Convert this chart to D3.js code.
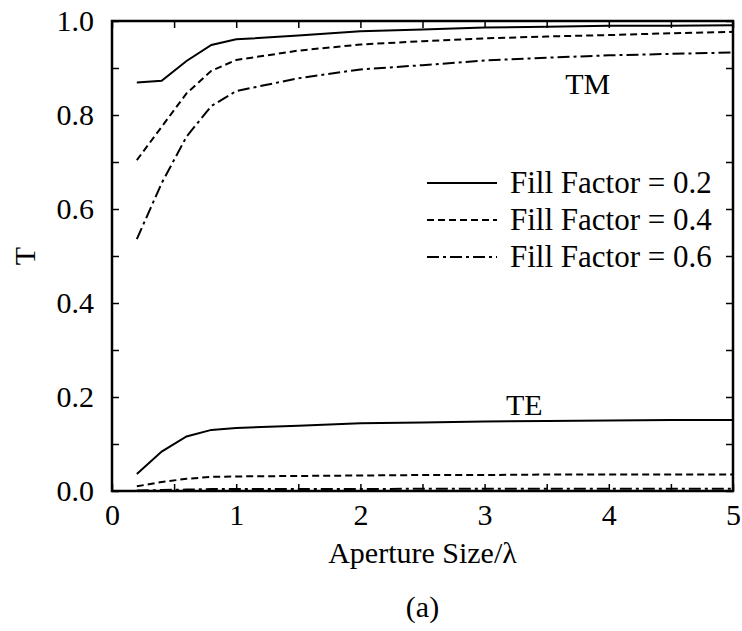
<!DOCTYPE html>
<html lang="en">
<head>
  <meta charset="UTF-8">
  <title>T vs Aperture Size</title>
  <style>
    html, body { margin: 0; padding: 0; background: #fff; }
    svg { display: block; }
  </style>
</head>
<body>
  <svg class="chart"></svg>
  <script src="https://cdnjs.cloudflare.com/ajax/libs/d3/7.8.5/d3.min.js"></script>
  <script>
    // data
    const apertures = [0.2, 0.4, 0.6, 0.8, 1.0, 1.5, 2, 2.5, 3, 3.5, 4, 4.5, 5];
    const fillFactors = ['0.2', '0.4', '0.6'];
    const tm02 = [0.869, 0.873, 0.915, 0.949, 0.961, 0.969, 0.978, 0.982, 0.986, 0.988, 0.990, 0.990, 0.991];
    const tm04 = [0.704, 0.775, 0.846, 0.894, 0.917, 0.937, 0.950, 0.957, 0.963, 0.967, 0.970, 0.974, 0.977];
    const tm06 = [0.536, 0.655, 0.754, 0.819, 0.851, 0.878, 0.897, 0.906, 0.916, 0.922, 0.927, 0.930, 0.933];
    const te02 = [0.036, 0.084, 0.116, 0.130, 0.134, 0.139, 0.144, 0.146, 0.148, 0.149, 0.150, 0.151, 0.151];
    const te04 = [0.010, 0.019, 0.026, 0.030, 0.031, 0.032, 0.033, 0.034, 0.034, 0.035, 0.035, 0.035, 0.035];
    const te06 = [0.001, 0.002, 0.003, 0.004, 0.004, 0.004, 0.004, 0.005, 0.005, 0.005, 0.005, 0.005, 0.005];
    const xTicks = [0, 1, 2, 3, 4, 5];
    const xMinor = [0.5, 1.5, 2.5, 3.5, 4.5];
    const yTicks = [0, 0.2, 0.4, 0.6, 0.8, 1.0];
    const yMinor = [0.1, 0.3, 0.5, 0.7, 0.9];

    const svgWidth = 742, svgHeight = 631;
    const margin = { left: 112, top: 21, right: 9, bottom: 140 };
    const w = svgWidth - margin.left - margin.right,  // 621
      h = svgHeight - margin.top - margin.bottom;     // 470
    const FONT = '"Liberation Serif", "Times New Roman", serif';

    const svg = d3.select('svg.chart').attr('width', svgWidth).attr('height', svgHeight);
    const g = svg.append('g').attr('transform', `translate(${margin.left},${margin.top})`);

    const x = d3.scaleLinear().domain([0, 5]).range([0, w]);
    const y = d3.scaleLinear().domain([0, 1]).range([h, 0]);

    // dash styles per fill factor
    const dashes = [null, '7,4', '12,4,3,4'];

    // curves
    const line = d3.line().x((d, i) => x(apertures[i])).y(d => y(d));
    const series = [tm02, tm04, tm06, te02, te04, te06];
    series.forEach((s, k) => {
      g.append('path')
        .datum(s)
        .attr('d', line)
        .attr('fill', 'none')
        .attr('stroke', '#000')
        .attr('stroke-width', 2)
        .attr('stroke-dasharray', dashes[k % 3]);
    });

    // axes: ticks pointing inward on all four sides
    const tickLen = 7;
    function styleAxis(sel) {
      sel.attr('font-family', null).attr('font-size', null);
      sel.select('.domain').remove();
      sel.selectAll('line').attr('stroke', '#000').attr('stroke-width', 1.5);
      sel.selectAll('text').style('font-family', FONT).style('font-size', '30px').attr('fill', '#000');
    }
    g.append('g').attr('transform', `translate(0,${h})`)
      .call(d3.axisBottom(x).tickValues(xTicks).tickFormat(d3.format('d'))
        .tickSizeInner(-tickLen).tickSizeOuter(0).tickPadding(13))
      .call(styleAxis);
    g.append('g').attr('transform', `translate(0,${h})`)
      .call(d3.axisBottom(x).tickValues(xMinor).tickFormat('').tickSizeInner(-tickLen).tickSizeOuter(0))
      .call(styleAxis);
    g.append('g')
      .call(d3.axisTop(x).tickValues(xTicks.concat(xMinor)).tickFormat('').tickSizeInner(-tickLen).tickSizeOuter(0))
      .call(styleAxis);
    g.append('g')
      .call(d3.axisLeft(y).tickValues(yTicks).tickFormat(d3.format('.1f'))
        .tickSizeInner(-tickLen).tickSizeOuter(0).tickPadding(18))
      .call(styleAxis);
    g.append('g')
      .call(d3.axisLeft(y).tickValues(yMinor).tickFormat('').tickSizeInner(-tickLen).tickSizeOuter(0))
      .call(styleAxis);
    g.append('g').attr('transform', `translate(${w},0)`)
      .call(d3.axisRight(y).tickValues(yTicks.concat(yMinor)).tickFormat('').tickSizeInner(-tickLen).tickSizeOuter(0))
      .call(styleAxis);

    // frame
    g.append('rect')
      .attr('width', w).attr('height', h)
      .attr('fill', 'none').attr('stroke', '#000').attr('stroke-width', 2.5);

    function label(parent, size) {
      return parent.append('text').style('font-family', FONT)
        .style('font-size', (size || 30) + 'px').attr('fill', '#000');
    }

    // axis titles
    label(svg).attr('x', margin.left + w / 2).attr('y', 563)
      .attr('text-anchor', 'middle').text('Aperture Size/λ');
    label(svg).attr('x', margin.left + w / 2).attr('y', 617)
      .attr('text-anchor', 'middle').text('(a)');
    label(svg).attr('transform', `translate(35,${margin.top + h / 2}) rotate(-90)`)
      .attr('text-anchor', 'middle').text('T');

    // curve labels
    label(g).attr('x', x(3.83)).attr('y', y(0.845))
      .attr('text-anchor', 'middle').text('TM');
    label(g).attr('x', x(3.32)).attr('y', y(0.153) - 4)
      .attr('text-anchor', 'middle').text('TE');

    // legend
    const legend = g.append('g').attr('class', 'legend');
    fillFactors.forEach((f, i) => {
      const row = legend.append('g').attr('transform', `translate(${427 - margin.left},${162 + i * 37})`);
      row.append('line')
        .attr('x1', 0).attr('x2', 70)
        .attr('stroke', '#000').attr('stroke-width', 2)
        .attr('stroke-dasharray', dashes[i]);
      label(row, 31).attr('x', 83).attr('y', 10)
        .text(`Fill Factor = ${f}`);
    });
  </script>
</body>
</html>
